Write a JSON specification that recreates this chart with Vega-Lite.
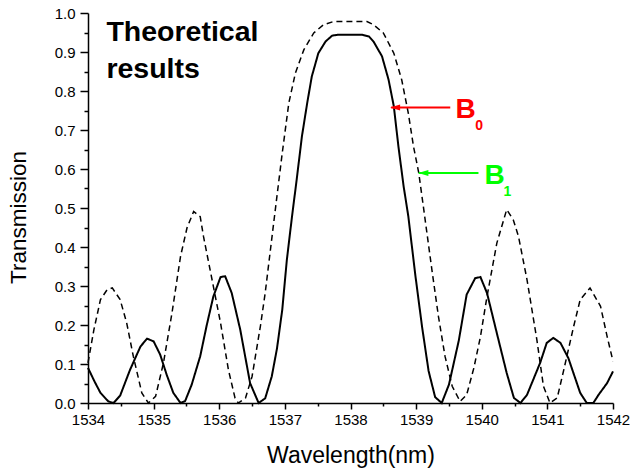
{
  "$schema": "https://vega.github.io/schema/vega-lite/v6.json",
  "width": 525,
  "height": 390,
  "autosize": "none",
  "padding": {"left": 88, "top": 13, "right": 17, "bottom": 66},
  "background": "white",
  "config": {
    "view": {"stroke": null},
    "font": "Liberation Sans",
    "text": {"font": "Liberation Sans"}
  },
  "resolve": {"axis": {"x": "independent", "y": "independent"}},
  "datasets": {
    "curves": [
      {"series": "B0", "wl": 1534.00, "T": 0.090},
      {"series": "B0", "wl": 1534.10, "T": 0.055},
      {"series": "B0", "wl": 1534.19, "T": 0.026},
      {"series": "B0", "wl": 1534.31, "T": 0.004},
      {"series": "B0", "wl": 1534.39, "T": 0.000},
      {"series": "B0", "wl": 1534.49, "T": 0.019},
      {"series": "B0", "wl": 1534.64, "T": 0.085},
      {"series": "B0", "wl": 1534.80, "T": 0.145},
      {"series": "B0", "wl": 1534.90, "T": 0.165},
      {"series": "B0", "wl": 1535.00, "T": 0.158},
      {"series": "B0", "wl": 1535.10, "T": 0.124},
      {"series": "B0", "wl": 1535.20, "T": 0.072},
      {"series": "B0", "wl": 1535.30, "T": 0.026},
      {"series": "B0", "wl": 1535.41, "T": 0.000},
      {"series": "B0", "wl": 1535.48, "T": 0.005},
      {"series": "B0", "wl": 1535.58, "T": 0.047},
      {"series": "B0", "wl": 1535.71, "T": 0.120},
      {"series": "B0", "wl": 1535.81, "T": 0.200},
      {"series": "B0", "wl": 1535.91, "T": 0.273},
      {"series": "B0", "wl": 1536.02, "T": 0.323},
      {"series": "B0", "wl": 1536.09, "T": 0.325},
      {"series": "B0", "wl": 1536.19, "T": 0.282},
      {"series": "B0", "wl": 1536.32, "T": 0.188},
      {"series": "B0", "wl": 1536.47, "T": 0.051},
      {"series": "B0", "wl": 1536.60, "T": 0.000},
      {"series": "B0", "wl": 1536.70, "T": 0.012},
      {"series": "B0", "wl": 1536.80, "T": 0.068},
      {"series": "B0", "wl": 1536.88, "T": 0.140},
      {"series": "B0", "wl": 1536.96, "T": 0.239},
      {"series": "B0", "wl": 1537.03, "T": 0.367},
      {"series": "B0", "wl": 1537.11, "T": 0.480},
      {"series": "B0", "wl": 1537.18, "T": 0.573},
      {"series": "B0", "wl": 1537.26, "T": 0.684},
      {"series": "B0", "wl": 1537.34, "T": 0.769},
      {"series": "B0", "wl": 1537.41, "T": 0.837},
      {"series": "B0", "wl": 1537.51, "T": 0.897},
      {"series": "B0", "wl": 1537.62, "T": 0.927},
      {"series": "B0", "wl": 1537.72, "T": 0.942},
      {"series": "B0", "wl": 1537.80, "T": 0.944},
      {"series": "B0", "wl": 1538.00, "T": 0.944},
      {"series": "B0", "wl": 1538.18, "T": 0.944},
      {"series": "B0", "wl": 1538.28, "T": 0.940},
      {"series": "B0", "wl": 1538.35, "T": 0.927},
      {"series": "B0", "wl": 1538.48, "T": 0.889},
      {"series": "B0", "wl": 1538.58, "T": 0.829},
      {"series": "B0", "wl": 1538.66, "T": 0.761},
      {"series": "B0", "wl": 1538.73, "T": 0.658},
      {"series": "B0", "wl": 1538.81, "T": 0.555},
      {"series": "B0", "wl": 1538.88, "T": 0.480},
      {"series": "B0", "wl": 1538.99, "T": 0.325},
      {"series": "B0", "wl": 1539.09, "T": 0.196},
      {"series": "B0", "wl": 1539.19, "T": 0.082},
      {"series": "B0", "wl": 1539.29, "T": 0.015},
      {"series": "B0", "wl": 1539.39, "T": 0.000},
      {"series": "B0", "wl": 1539.50, "T": 0.047},
      {"series": "B0", "wl": 1539.65, "T": 0.160},
      {"series": "B0", "wl": 1539.77, "T": 0.278},
      {"series": "B0", "wl": 1539.90, "T": 0.320},
      {"series": "B0", "wl": 1539.98, "T": 0.323},
      {"series": "B0", "wl": 1540.08, "T": 0.282},
      {"series": "B0", "wl": 1540.23, "T": 0.179},
      {"series": "B0", "wl": 1540.38, "T": 0.077},
      {"series": "B0", "wl": 1540.49, "T": 0.013},
      {"series": "B0", "wl": 1540.59, "T": 0.000},
      {"series": "B0", "wl": 1540.69, "T": 0.021},
      {"series": "B0", "wl": 1540.89, "T": 0.103},
      {"series": "B0", "wl": 1540.99, "T": 0.154},
      {"series": "B0", "wl": 1541.09, "T": 0.167},
      {"series": "B0", "wl": 1541.20, "T": 0.154},
      {"series": "B0", "wl": 1541.32, "T": 0.115},
      {"series": "B0", "wl": 1541.50, "T": 0.026},
      {"series": "B0", "wl": 1541.60, "T": 0.000},
      {"series": "B0", "wl": 1541.70, "T": 0.000},
      {"series": "B0", "wl": 1541.78, "T": 0.021},
      {"series": "B0", "wl": 1541.91, "T": 0.051},
      {"series": "B0", "wl": 1542.00, "T": 0.081},
      {"series": "B1", "wl": 1534.00, "T": 0.103},
      {"series": "B1", "wl": 1534.09, "T": 0.188},
      {"series": "B1", "wl": 1534.19, "T": 0.265},
      {"series": "B1", "wl": 1534.29, "T": 0.290},
      {"series": "B1", "wl": 1534.37, "T": 0.295},
      {"series": "B1", "wl": 1534.49, "T": 0.265},
      {"series": "B1", "wl": 1534.59, "T": 0.205},
      {"series": "B1", "wl": 1534.69, "T": 0.120},
      {"series": "B1", "wl": 1534.82, "T": 0.026},
      {"series": "B1", "wl": 1534.92, "T": 0.000},
      {"series": "B1", "wl": 1535.03, "T": 0.017},
      {"series": "B1", "wl": 1535.15, "T": 0.103},
      {"series": "B1", "wl": 1535.28, "T": 0.231},
      {"series": "B1", "wl": 1535.41, "T": 0.376},
      {"series": "B1", "wl": 1535.51, "T": 0.450},
      {"series": "B1", "wl": 1535.61, "T": 0.491},
      {"series": "B1", "wl": 1535.71, "T": 0.478},
      {"series": "B1", "wl": 1535.76, "T": 0.427},
      {"series": "B1", "wl": 1535.86, "T": 0.342},
      {"series": "B1", "wl": 1536.02, "T": 0.205},
      {"series": "B1", "wl": 1536.14, "T": 0.085},
      {"series": "B1", "wl": 1536.24, "T": 0.013},
      {"series": "B1", "wl": 1536.29, "T": 0.000},
      {"series": "B1", "wl": 1536.40, "T": 0.013},
      {"series": "B1", "wl": 1536.50, "T": 0.068},
      {"series": "B1", "wl": 1536.63, "T": 0.200},
      {"series": "B1", "wl": 1536.70, "T": 0.282},
      {"series": "B1", "wl": 1536.78, "T": 0.393},
      {"series": "B1", "wl": 1536.85, "T": 0.490},
      {"series": "B1", "wl": 1536.96, "T": 0.641},
      {"series": "B1", "wl": 1537.06, "T": 0.769},
      {"series": "B1", "wl": 1537.16, "T": 0.846},
      {"series": "B1", "wl": 1537.29, "T": 0.906},
      {"series": "B1", "wl": 1537.44, "T": 0.949},
      {"series": "B1", "wl": 1537.59, "T": 0.970},
      {"series": "B1", "wl": 1537.74, "T": 0.978},
      {"series": "B1", "wl": 1538.00, "T": 0.978},
      {"series": "B1", "wl": 1538.25, "T": 0.978},
      {"series": "B1", "wl": 1538.35, "T": 0.970},
      {"series": "B1", "wl": 1538.50, "T": 0.949},
      {"series": "B1", "wl": 1538.66, "T": 0.897},
      {"series": "B1", "wl": 1538.78, "T": 0.829},
      {"series": "B1", "wl": 1538.88, "T": 0.744},
      {"series": "B1", "wl": 1538.96, "T": 0.658},
      {"series": "B1", "wl": 1539.04, "T": 0.590},
      {"series": "B1", "wl": 1539.11, "T": 0.504},
      {"series": "B1", "wl": 1539.24, "T": 0.342},
      {"series": "B1", "wl": 1539.34, "T": 0.222},
      {"series": "B1", "wl": 1539.44, "T": 0.120},
      {"series": "B1", "wl": 1539.55, "T": 0.043},
      {"series": "B1", "wl": 1539.67, "T": 0.004},
      {"series": "B1", "wl": 1539.77, "T": 0.021},
      {"series": "B1", "wl": 1539.88, "T": 0.090},
      {"series": "B1", "wl": 1539.98, "T": 0.170},
      {"series": "B1", "wl": 1540.08, "T": 0.273},
      {"series": "B1", "wl": 1540.23, "T": 0.410},
      {"series": "B1", "wl": 1540.38, "T": 0.496},
      {"series": "B1", "wl": 1540.48, "T": 0.470},
      {"series": "B1", "wl": 1540.56, "T": 0.427},
      {"series": "B1", "wl": 1540.69, "T": 0.316},
      {"series": "B1", "wl": 1540.84, "T": 0.162},
      {"series": "B1", "wl": 1540.94, "T": 0.043},
      {"series": "B1", "wl": 1541.04, "T": 0.000},
      {"series": "B1", "wl": 1541.15, "T": 0.013},
      {"series": "B1", "wl": 1541.25, "T": 0.085},
      {"series": "B1", "wl": 1541.40, "T": 0.196},
      {"series": "B1", "wl": 1541.50, "T": 0.265},
      {"series": "B1", "wl": 1541.65, "T": 0.295},
      {"series": "B1", "wl": 1541.81, "T": 0.248},
      {"series": "B1", "wl": 1541.91, "T": 0.171},
      {"series": "B1", "wl": 1542.00, "T": 0.107}
    ],
    "arrows": [
      {"series": "B0", "tip": 1538.62, "head": 1538.68, "tail": 1539.52, "y": 0.758},
      {"series": "B1", "tip": 1539.04, "head": 1539.11, "tail": 1539.95, "y": 0.590}
    ],
    "heading": [
      {"label": "Theoretical", "x": 1534.28, "y": 0.927},
      {"label": "results", "x": 1534.28, "y": 0.833}
    ],
    "letters": [
      {"series": "B0", "label": "B", "x": 1539.60, "y": 0.731},
      {"series": "B1", "label": "B", "x": 1540.04, "y": 0.561}
    ],
    "subscripts": [
      {"series": "B0", "label": "0", "x": 1539.90, "y": 0.701},
      {"series": "B1", "label": "1", "x": 1540.33, "y": 0.530}
    ]
  },
  "layer": [
    {
      "data": {"name": "curves"},
      "mark": {"type": "line", "color": "black", "interpolate": "linear"},
      "encoding": {
        "x": {
          "field": "wl", "type": "quantitative",
          "scale": {"domain": [1534, 1542], "nice": false, "zero": false},
          "axis": {
            "orient": "bottom",
            "title": "Wavelength(nm)",
            "values": [1534, 1535, 1536, 1537, 1538, 1539, 1540, 1541, 1542],
            "format": "d",
            "labelOverlap": false,
            "labelFlush": false,
            "grid": false,
            "domainColor": "black",
            "domainWidth": 1.5,
            "tickColor": "black",
            "tickWidth": 1.5,
            "tickSize": 6,
            "labelFont": "Liberation Sans",
            "labelFontSize": 15,
            "labelColor": "black",
            "labelPadding": 3,
            "titleFont": "Liberation Sans",
            "titleFontSize": 23,
            "titleFontWeight": "normal",
            "titleColor": "black",
            "titleX": 262.5,
            "titleY": 59,
            "titleBaseline": "alphabetic"
          }
        },
        "y": {
          "field": "T", "type": "quantitative",
          "scale": {"domain": [0, 1], "nice": false},
          "axis": {
            "orient": "left",
            "title": "Transmission",
            "values": [0, 0.1, 0.2, 0.3, 0.4, 0.5, 0.6, 0.7, 0.8, 0.9, 1.0],
            "format": ".1f",
            "labelOverlap": false,
            "labelFlush": false,
            "grid": false,
            "domainColor": "black",
            "domainWidth": 1.5,
            "tickColor": "black",
            "tickWidth": 1.5,
            "tickSize": 8,
            "labelFont": "Liberation Sans",
            "labelFontSize": 15,
            "labelColor": "black",
            "labelPadding": 5,
            "titleFont": "Liberation Sans",
            "titleFontSize": 22.5,
            "titleFontWeight": "normal",
            "titleColor": "black",
            "titleX": -70,
            "titleY": 204,
            "titleAngle": -90,
            "titleAlign": "center",
            "titleBaseline": "middle"
          }
        },
        "strokeDash": {
          "field": "series", "type": "nominal",
          "scale": {"domain": ["B0", "B1"], "range": [[1, 0], [6, 4]]},
          "legend": null
        },
        "strokeWidth": {
          "field": "series", "type": "nominal",
          "scale": {"domain": ["B0", "B1"], "range": [2, 1.5]},
          "legend": null
        }
      }
    },
    {
      "data": {"name": "arrows"},
      "mark": {"type": "rule", "strokeWidth": 2},
      "encoding": {
        "x": {
          "field": "tip", "type": "quantitative",
          "axis": {
            "orient": "bottom",
            "title": null,
            "values": [1534.5, 1535.5, 1536.5, 1537.5, 1538.5, 1539.5, 1540.5, 1541.5],
            "labels": false,
            "domain": false,
            "grid": false,
            "tickColor": "black",
            "tickWidth": 1.5,
            "tickSize": 3
          }
        },
        "x2": {"field": "tail"},
        "y": {
          "field": "y", "type": "quantitative",
          "axis": {
            "orient": "left",
            "title": null,
            "values": [0.05, 0.15, 0.25, 0.35, 0.45, 0.55, 0.65, 0.75, 0.85, 0.95],
            "labels": false,
            "domain": false,
            "grid": false,
            "tickColor": "black",
            "tickWidth": 1.5,
            "tickSize": 4
          }
        },
        "color": {
          "field": "series", "type": "nominal",
          "scale": {"domain": ["B0", "B1"], "range": ["#ff0000", "#00ff00"]},
          "legend": null
        }
      }
    },
    {
      "data": {"name": "arrows"},
      "mark": {"type": "point", "shape": "M-1,0L1,-0.6L1,0.6Z", "filled": true, "opacity": 1, "size": 100, "strokeWidth": 0},
      "encoding": {
        "x": {"field": "head", "type": "quantitative", "axis": null},
        "y": {"field": "y", "type": "quantitative", "axis": null},
        "color": {
          "field": "series", "type": "nominal",
          "scale": {"domain": ["B0", "B1"], "range": ["#ff0000", "#00ff00"]},
          "legend": null
        }
      }
    },
    {
      "data": {"name": "heading"},
      "mark": {"type": "text", "align": "left", "baseline": "alphabetic", "font": "Liberation Sans", "fontSize": 28.5, "fontWeight": "bold", "color": "black"},
      "encoding": {
        "x": {"field": "x", "type": "quantitative", "axis": null},
        "y": {"field": "y", "type": "quantitative", "axis": null},
        "text": {"field": "label"}
      }
    },
    {
      "data": {"name": "letters"},
      "mark": {"type": "text", "align": "left", "baseline": "alphabetic", "font": "Liberation Sans", "fontSize": 28, "fontWeight": "bold"},
      "encoding": {
        "x": {"field": "x", "type": "quantitative", "axis": null},
        "y": {"field": "y", "type": "quantitative", "axis": null},
        "text": {"field": "label"},
        "color": {
          "field": "series", "type": "nominal",
          "scale": {"domain": ["B0", "B1"], "range": ["#ff0000", "#00ff00"]},
          "legend": null
        }
      }
    },
    {
      "data": {"name": "subscripts"},
      "mark": {"type": "text", "align": "left", "baseline": "alphabetic", "font": "Liberation Sans", "fontSize": 14, "fontWeight": "bold"},
      "encoding": {
        "x": {"field": "x", "type": "quantitative", "axis": null},
        "y": {"field": "y", "type": "quantitative", "axis": null},
        "text": {"field": "label"},
        "color": {
          "field": "series", "type": "nominal",
          "scale": {"domain": ["B0", "B1"], "range": ["#ff0000", "#00ff00"]},
          "legend": null
        }
      }
    }
  ]
}
